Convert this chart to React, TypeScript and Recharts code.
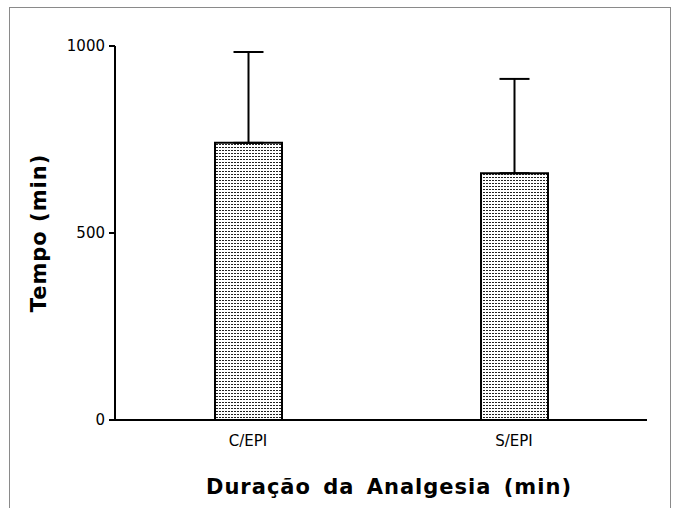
import { BarChart, Bar, XAxis, YAxis, ErrorBar, Label } from "recharts";

// Duração da analgesia (min), média + desvio padrão
const categories = ["C/EPI", "S/EPI"];
const means = [741, 660];
const sdUpper = [243, 252];
const yTicks = [0, 500, 1000];

const data = categories.map((name, i) => ({
  name,
  tempo: means[i],
  err: [0, sdUpper[i]],
}));

const font = "'DejaVu Sans', Arial, sans-serif";

function YTitle(props: any) {
  const vb = props.viewBox || {};
  const x = vb.x - 16;
  const y = vb.y + vb.height / 2;
  return (
    <text
      x={x}
      y={y}
      transform={`rotate(-90, ${x}, ${y})`}
      textAnchor="middle"
      dominantBaseline="central"
      fontFamily={font}
      fontWeight="bold"
      fontSize={21}
      letterSpacing={1}
      fill="#000"
    >
      Tempo (min)
    </text>
  );
}

function XTitle(props: any) {
  const vb = props.viewBox || {};
  return (
    <text
      x={vb.x + vb.width / 2 + 8}
      y={vb.y + 74}
      textAnchor="middle"
      fontFamily={font}
      fontWeight="bold"
      fontSize={21}
      letterSpacing={1}
      wordSpacing={4}
      fill="#000"
    >
      Duração da Analgesia (min)
    </text>
  );
}

export default function App() {
  return (
    <div style={{ position: "absolute", left: 0, top: 0, width: 677, height: 508, background: "#fff", overflow: "hidden" }}>
      <div
        style={{
          position: "absolute",
          left: 9,
          top: 7,
          width: 660,
          height: 600,
          border: "1px solid #8a8a8a",
        }}
      />
      <BarChart
        width={677}
        height={508}
        data={data}
        margin={{ top: 46, right: 30, bottom: 0, left: 55 }}
        style={{ position: "absolute", left: 0, top: 0 }}
      >
        <defs>
          <pattern id="dots" width="3" height="3" patternUnits="userSpaceOnUse">
            <rect width="3" height="3" fill="#fff" />
            <rect x="0" y="0" width="2" height="1" fill="#222" />
          </pattern>
        </defs>
        <XAxis
          dataKey="name"
          height={88}
          axisLine={{ stroke: "#000", strokeWidth: 2 }}
          tickLine={false}
          tickSize={8}
          tickMargin={7}
          tick={{ fill: "#000", fontSize: 15, fontFamily: font }}
        >
          <Label content={<XTitle />} />
        </XAxis>
        <YAxis
          width={60}
          domain={[0, 1000]}
          ticks={yTicks}
          interval={0}
          axisLine={{ stroke: "#000", strokeWidth: 2 }}
          tickLine={{ stroke: "#000", strokeWidth: 2 }}
          tickSize={6}
          tickMargin={4}
          tick={{ fill: "#000", fontSize: 15, fontFamily: font }}
        >
          <Label content={<YTitle />} />
        </YAxis>
        <Bar
          dataKey="tempo"
          barSize={67}
          fill="url(#dots)"
          stroke="#000"
          strokeWidth={2}
          isAnimationActive={false}
        >
          <ErrorBar dataKey="err" direction="y" width={15} stroke="#000" strokeWidth={2} isAnimationActive={false} />
        </Bar>
      </BarChart>
    </div>
  );
}
